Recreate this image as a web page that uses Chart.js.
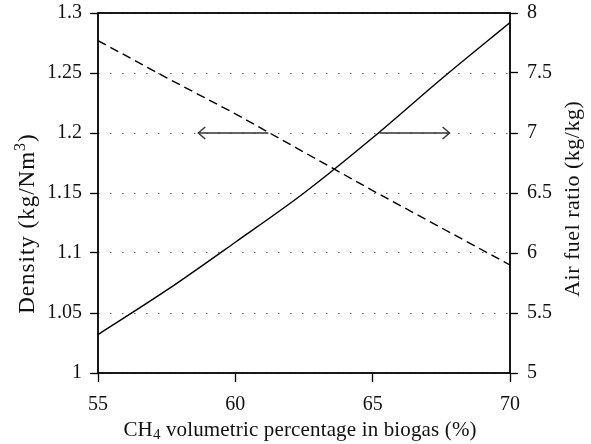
<!DOCTYPE html>
<html>
<head>
<meta charset="utf-8">
<script src="https://cdn.jsdelivr.net/npm/chart.js@4.4.1/dist/chart.umd.min.js"></script>
<style>
  html, body { margin: 0; padding: 0; background: #ffffff; }
  #wrap { width: 591px; height: 444px; position: relative; }
</style>
</head>
<body>
<div id="wrap"><canvas id="c" width="591" height="444"></canvas></div>
<script>
// ---- data ----
const xValues = [55, 57.5, 60, 62.5, 65, 67.5, 70];          // CH4 volumetric %
const densityValues = [1.277, 1.246, 1.216, 1.184, 1.152, 1.121, 1.090]; // kg/Nm3 (dashed, left axis)
const afrValues = [5.32, 5.69, 6.09, 6.50, 6.96, 7.45, 7.92];  // kg/kg (solid, right axis)
const xTicks = [55, 60, 65, 70];
const densityTicks = [1, 1.05, 1.1, 1.15, 1.2, 1.25, 1.3];
const afrTicks = [5, 5.5, 6, 6.5, 7, 7.5, 8];
const leftArrowX = [61.2, 58.65];   // arrow pointing to density axis
const leftArrowY = [1.2, 1.2];
const rightArrowX = [65.25, 67.8];  // arrow pointing to AFR axis
const rightArrowY = [7, 7];
const xTitleParts = ["CH", "4", " volumetric percentage in biogas (%)"];
const leftTitleParts = ["Density (kg/Nm", "3", ")"];
const rightTitle = "Air fuel ratio (kg/kg)";

const FONT = "'Liberation Serif', 'Times New Roman', serif";
const TICK_SIZE = 20;

const toPts = (xs, ys) => xs.map((x, i) => ({ x: x, y: ys[i] }));

// draw rich text (kind: 0 normal, 1 sub, 2 sup) centred at 0,0
function drawRich(ctx, parts, kinds, size, spacing) {
  const big = size + 'px ' + FONT;
  const small = Math.round(size * 0.7) + 'px ' + FONT;
  const glyphs = [];
  parts.forEach((t, i) => {
    for (const ch of t) {
      ctx.font = kinds[i] ? small : big;
      glyphs.push({ ch, kind: kinds[i], w: ctx.measureText(ch).width });
    }
  });
  const total = glyphs.reduce((a, g) => a + g.w, 0) + spacing * (glyphs.length - 1);
  let x = -total / 2;
  ctx.textAlign = 'left';
  ctx.textBaseline = 'middle';
  glyphs.forEach(g => {
    ctx.font = g.kind ? small : big;
    const dy = g.kind === 1 ? size * 0.25 : (g.kind === 2 ? -size * 0.3 : 0);
    ctx.fillText(g.ch, x, dy);
    x += g.w + spacing;
  });
}

const annot = {
  id: 'annot',
  afterDatasetsDraw(chart) {
    const ctx = chart.ctx;
    [2, 3].forEach(i => {
      const meta = chart.getDatasetMeta(i);
      const p0 = meta.data[0], p1 = meta.data[meta.data.length - 1];
      const dir = Math.sign(p1.x - p0.x);
      ctx.save();
      ctx.strokeStyle = '#333';
      ctx.lineWidth = 1.4;
      ctx.beginPath();
      ctx.moveTo(p1.x - dir * 7, p1.y - 6);
      ctx.lineTo(p1.x, p1.y);
      ctx.lineTo(p1.x - dir * 7, p1.y + 6);
      ctx.stroke();
      ctx.restore();
    });
  },
  afterDraw(chart) {
    const ctx = chart.ctx;
    const a = chart.chartArea;
    ctx.save();
    ctx.strokeStyle = '#000';
    ctx.lineWidth = 1.8;
    ctx.strokeRect(a.left, a.top, a.right - a.left, a.bottom - a.top);
    ctx.fillStyle = '#111';

    ctx.save();
    ctx.translate(300, 430);
    drawRich(ctx, xTitleParts, [0, 1, 0], 21, 0.15);
    ctx.restore();

    ctx.save();
    ctx.translate(28, 224);
    ctx.rotate(-Math.PI / 2);
    drawRich(ctx, leftTitleParts, [0, 2, 0], 23, 1);
    ctx.restore();

    ctx.save();
    ctx.translate(573, 199);
    ctx.rotate(-Math.PI / 2);
    drawRich(ctx, [rightTitle], [0], 22, 0.5);
    ctx.restore();

    ctx.restore();
  }
};

const noPadV = s => { s.paddingTop = 0; s.paddingBottom = 0; };

new Chart(document.getElementById('c'), {
  type: 'scatter',
  data: {
    datasets: [
      {
        label: 'Density',
        data: toPts(xValues, densityValues),
        yAxisID: 'y',
        showLine: true,
        borderColor: '#000',
        borderWidth: 1.4,
        borderDash: [9, 5],
        pointRadius: 0,
        tension: 0
      },
      {
        label: 'Air fuel ratio',
        data: toPts(xValues, afrValues),
        yAxisID: 'y2',
        showLine: true,
        borderColor: '#000',
        borderWidth: 1.4,
        pointRadius: 0,
        cubicInterpolationMode: 'monotone'
      },
      {
        label: 'arrowL',
        data: toPts(leftArrowX, leftArrowY),
        yAxisID: 'y',
        showLine: true,
        borderColor: '#333',
        borderWidth: 1.4,
        pointRadius: 0
      },
      {
        label: 'arrowR',
        data: toPts(rightArrowX, rightArrowY),
        yAxisID: 'y2',
        showLine: true,
        borderColor: '#333',
        borderWidth: 1.4,
        pointRadius: 0
      }
    ]
  },
  options: {
    responsive: false,
    animation: false,
    layout: { padding: { top: 13, left: 0, right: 0, bottom: 0 } },
    plugins: { legend: { display: false }, tooltip: { enabled: false } },
    scales: {
      x: {
        type: 'linear',
        position: 'bottom',
        min: 55, max: 70,
        afterBuildTicks: s => { s.ticks = xTicks.map(v => ({ value: v })); },
        afterFit: s => { s.height = 71; s.paddingLeft = 0; s.paddingRight = 0; },
        ticks: { color: '#111', font: { family: FONT, size: TICK_SIZE }, padding: 11, maxRotation: 0 },
        grid: { drawOnChartArea: false, drawTicks: true, tickLength: 9, tickColor: '#000', tickWidth: 1.3 },
        border: { display: false }
      },
      y: {
        type: 'linear',
        position: 'left',
        min: 1, max: 1.3,
        afterBuildTicks: s => { s.ticks = densityTicks.map(v => ({ value: v })); },
        afterFit: s => { s.width = 98; noPadV(s); },
        ticks: { color: '#111', font: { family: FONT, size: TICK_SIZE }, padding: 8, callback: v => String(v) },
        grid: { color: '#666', lineWidth: 1, tickLength: 8, tickColor: '#000', tickWidth: 1.3 },
        border: { display: false, dash: [1.5, 10.5] }
      },
      y2: {
        type: 'linear',
        position: 'right',
        min: 5, max: 8,
        afterBuildTicks: s => { s.ticks = afrTicks.map(v => ({ value: v })); },
        afterFit: s => { s.width = 81; noPadV(s); },
        ticks: { color: '#111', font: { family: FONT, size: TICK_SIZE }, padding: 9, callback: v => String(v) },
        grid: { drawOnChartArea: false, tickLength: 8, tickColor: '#000', tickWidth: 1.3 },
        border: { display: false }
      }
    }
  },
  plugins: [annot]
});
</script>
</body>
</html>
